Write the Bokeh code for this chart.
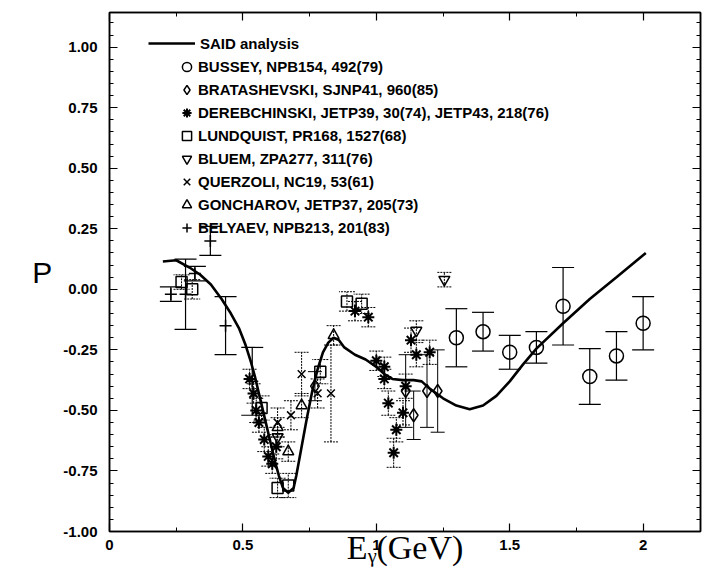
from bokeh.plotting import figure
from bokeh.models import (Range1d, LinearAxis, FixedTicker, PrintfTickFormatter, Legend,
                          LegendItem, Whisker, TeeHead, ColumnDataSource)
from bokeh.embed import file_html
from bokeh.resources import INLINE

# ---------------- data ----------------
said_E = [0.20, 0.25, 0.30, 0.34, 0.38, 0.42, 0.455, 0.485, 0.51, 0.53, 0.545, 0.56, 0.575,
          0.59, 0.605, 0.62, 0.635, 0.65, 0.67, 0.69, 0.70, 0.72, 0.74, 0.76, 0.78, 0.80,
          0.82, 0.84, 0.86, 0.88, 0.92, 0.96, 1.00, 1.03, 1.06, 1.10, 1.14, 1.17, 1.20,
          1.25, 1.30, 1.35, 1.40, 1.45, 1.50, 1.55, 1.60, 1.70, 1.80, 1.90, 2.01]
said_P = [0.115, 0.12, 0.09, 0.06, 0.02, -0.04, -0.10, -0.16, -0.23, -0.30, -0.36, -0.43,
          -0.50, -0.57, -0.64, -0.71, -0.77, -0.82, -0.84, -0.82, -0.77, -0.65, -0.53, -0.42,
          -0.33, -0.26, -0.22, -0.20, -0.21, -0.24, -0.27, -0.29, -0.32, -0.35, -0.37,
          -0.375, -0.375, -0.38, -0.41, -0.45, -0.48, -0.495, -0.48, -0.44, -0.38, -0.31,
          -0.245, -0.14, -0.04, 0.05, 0.15]

bussey_E = [1.3, 1.4, 1.5, 1.6, 1.7, 1.8, 1.9, 2.0]
bussey_P = [-0.20, -0.175, -0.26, -0.24, -0.07, -0.36, -0.275, -0.14]
bussey_dP = [0.12, 0.08, 0.07, 0.065, 0.16, 0.115, 0.10, 0.11]

brat_E = [0.77, 1.11, 1.14, 1.19, 1.23]
brat_P = [-0.40, -0.42, -0.52, -0.42, -0.42]
brat_dP = [0.06, 0.15, 0.10, 0.15, 0.17]

dere_E = [0.525, 0.54, 0.55, 0.56, 0.58, 0.595, 0.61, 0.625, 0.92, 0.97, 1.00, 1.03, 1.03,
          1.045, 1.065, 1.075, 1.10, 1.11, 1.13, 1.15, 1.20]
dere_P = [-0.37, -0.43, -0.50, -0.55, -0.62, -0.69, -0.72, -0.65, -0.09, -0.115, -0.295,
          -0.32, -0.37, -0.47, -0.675, -0.58, -0.51, -0.40, -0.21, -0.27, -0.26]
dere_dP = [0.04, 0.04, 0.05, 0.04, 0.05, 0.04, 0.04, 0.05, 0.04, 0.04, 0.04, 0.04, 0.04,
           0.05, 0.06, 0.05, 0.05, 0.05, 0.05, 0.05, 0.05]

lund_E = [0.27, 0.31, 0.57, 0.63, 0.67, 0.79, 0.89, 0.945]
lund_P = [0.03, 0.0, -0.49, -0.82, -0.81, -0.34, -0.05, -0.06]
lund_dP = [0.03, 0.04, 0.05, 0.04, 0.05, 0.05, 0.04, 0.04]

bluem_E = [0.63, 1.15, 1.255]
bluem_P = [-0.61, -0.17, 0.04]
bluem_dP = [0.04, 0.04, 0.03]

querz_E = [0.63, 0.68, 0.72, 0.78, 0.83]
querz_P = [-0.55, -0.52, -0.35, -0.43, -0.43]
querz_dP = [0.06, 0.06, 0.09, 0.06, 0.20]

gonch_E = [0.63, 0.67, 0.72, 0.84]
gonch_P = [-0.57, -0.67, -0.48, -0.19]
gonch_dP = [0.04, 0.04, 0.05, 0.04]

bely_E = [0.23, 0.285, 0.32, 0.378, 0.435, 0.535]
bely_P = [-0.02, -0.02, 0.065, 0.20, -0.15, -0.38]
bely_dP = [0.03, 0.145, 0.03, 0.06, 0.12, 0.14]

x_ticks = [0, 0.5, 1, 1.5, 2]
x_minor = [0.25, 0.75, 1.25, 1.75]
y_ticks = [-1.0, -0.75, -0.5, -0.25, 0.0, 0.25, 0.5, 0.75, 1.0]
y_minor = [round(-1.0 + 0.05 * i, 2) for i in range(43)]

legend_labels = ["SAID analysis", "BUSSEY, NPB154, 492(79)", "BRATASHEVSKI, SJNP41, 960(85)",
                 "DEREBCHINSKI, JETP39, 30(74), JETP43, 218(76)", "LUNDQUIST, PR168, 1527(68)",
                 "BLUEM, ZPA277, 311(76)", "QUERZOLI, NC19, 53(61)", "GONCHAROV, JETP37, 205(73)",
                 "BELYAEV, NPB213, 201(83)"]
x_title = "Eᵧ(GeV)"
y_title = "P"

# ---------------- figure ----------------
SANS = "'Liberation Sans Narrow', 'Liberation Sans', Arial, sans-serif"
TICKF = "'Liberation Sans', Arial, sans-serif"
SERIF = "'Liberation Serif', 'DejaVu Serif', serif"

p = figure(width=703, height=571, x_range=Range1d(0, 2.215), y_range=Range1d(-1.0, 1.143),
           output_backend="svg", toolbar_location=None,
           min_border_left=109, min_border_right=3, min_border_top=12, min_border_bottom=40)
p.grid.visible = False
p.outline_line_color = "black"
p.outline_line_width = 1.5
p.background_fill_color = "white"
p.border_fill_color = "white"

xt = FixedTicker(ticks=x_ticks, minor_ticks=x_minor)
yt = FixedTicker(ticks=y_ticks, minor_ticks=y_minor)

def style_axis(ax, show_labels):
    ax.axis_line_width = 1.5
    ax.axis_line_color = "black"
    ax.major_tick_in = 8
    ax.major_tick_out = 0
    ax.minor_tick_in = 4
    ax.minor_tick_out = 0
    ax.major_tick_line_width = 1.2
    ax.minor_tick_line_width = 1
    if show_labels:
        ax.major_label_text_font = TICKF
        ax.major_label_text_font_style = "bold"
        ax.major_label_text_font_size = "15px"
        ax.major_label_text_color = "black"
    else:
        ax.major_label_text_font_size = "0px"
        ax.major_label_standoff = 0

bx = p.xaxis[0]
bx.ticker = xt
bx.formatter = PrintfTickFormatter(format="%g")
style_axis(bx, True)
bx.major_label_standoff = 8
bx.axis_label = x_title
bx.axis_label_text_font = SERIF
bx.axis_label_text_font_style = "normal"
bx.axis_label_text_font_size = "34px"
bx.axis_label_text_color = "black"
bx.axis_label_standoff = -24

ly = p.yaxis[0]
ly.ticker = yt
ly.formatter = PrintfTickFormatter(format="%.2f")
style_axis(ly, True)
ly.major_label_standoff = 12
ly.axis_label = y_title
ly.axis_label_text_font = TICKF
ly.axis_label_text_font_style = "normal"
ly.axis_label_text_font_size = "30px"
ly.axis_label_text_color = "black"
ly.axis_label_orientation = "horizontal"
ly.axis_label_standoff = 8

tx = LinearAxis(ticker=xt)
style_axis(tx, False)
p.add_layout(tx, "above")
ry = LinearAxis(ticker=FixedTicker(ticks=y_ticks, minor_ticks=y_minor))
style_axis(ry, False)
p.add_layout(ry, "right")

# ---------------- error bars ----------------
def add_err(E, P, dP, cap, dash, lw=1):
    src = ColumnDataSource(dict(x=E, lo=[a - b for a, b in zip(P, dP)],
                                hi=[a + b for a, b in zip(P, dP)]))
    w = Whisker(source=src, base="x", lower="lo", upper="hi", line_color="black",
                line_width=lw, line_dash=dash,
                upper_head=TeeHead(size=cap, line_width=lw, line_color="black", line_dash=dash),
                lower_head=TeeHead(size=cap, line_width=lw, line_color="black", line_dash=dash))
    p.add_layout(w)

add_err(bussey_E, bussey_P, bussey_dP, 22, "solid", 1.2)
add_err(brat_E, brat_P, brat_dP, 14, "solid", 1)
add_err(dere_E, dere_P, dere_dP, 14, "2 1", 1)
add_err(lund_E, lund_P, lund_dP, 16, "2 1", 1)
add_err(bluem_E, bluem_P, bluem_dP, 14, "2 1", 1)
add_err(querz_E, querz_P, querz_dP, 14, "2 1", 1)
add_err(gonch_E, gonch_P, gonch_dP, 14, "2 1", 1)
add_err(bely_E, bely_P, bely_dP, 22, "solid", 1.2)

# ---------------- curve and markers ----------------
r_said = p.line(said_E, said_P, line_color="black", line_width=2.6)

mk = dict(fill_color=None, line_color="black", line_width=1.5)
r_bus = p.scatter(bussey_E, bussey_P, marker="circle", size=14, **mk)
r_bra = p.scatter(brat_E, brat_P, marker="diamond", size=13, **mk)
r_der = p.scatter(dere_E, dere_P, marker="asterisk", size=12, fill_color=None,
                  line_color="black", line_width=2)
r_lun = p.scatter(lund_E, lund_P, marker="square", size=11, **mk)
r_blu = p.scatter(bluem_E, bluem_P, marker="inverted_triangle", size=11, **mk)
r_que = p.scatter(querz_E, querz_P, marker="x", size=11, **mk)
r_gon = p.scatter(gonch_E, gonch_P, marker="triangle", size=11, **mk)
r_bel = p.scatter(bely_E, bely_P, marker="cross", size=12, **mk)

# ---------------- legends ----------------
leg_common = dict(padding=0, margin=0, border_line_color=None, background_fill_alpha=0,
                  label_text_font=SANS, label_text_font_style="bold",
                  label_text_font_size="15px", label_text_color="black")
leg1 = Legend(items=[LegendItem(label=legend_labels[0], renderers=[r_said])],
              location=(39, 478), glyph_width=47, glyph_height=20, label_height=20,
              label_standoff=5, spacing=0, **leg_common)
p.add_layout(leg1)

rs = [r_bus, r_bra, r_der, r_lun, r_blu, r_que, r_gon, r_bel]
leg2 = Legend(items=[LegendItem(label=l, renderers=[r]) for l, r in zip(legend_labels[1:], rs)],
              location=(66, 292), glyph_width=23, glyph_height=23, label_height=23,
              label_standoff=0, spacing=0, **leg_common)
p.add_layout(leg2)

open("out.html", "w").write(file_html(p, INLINE))
